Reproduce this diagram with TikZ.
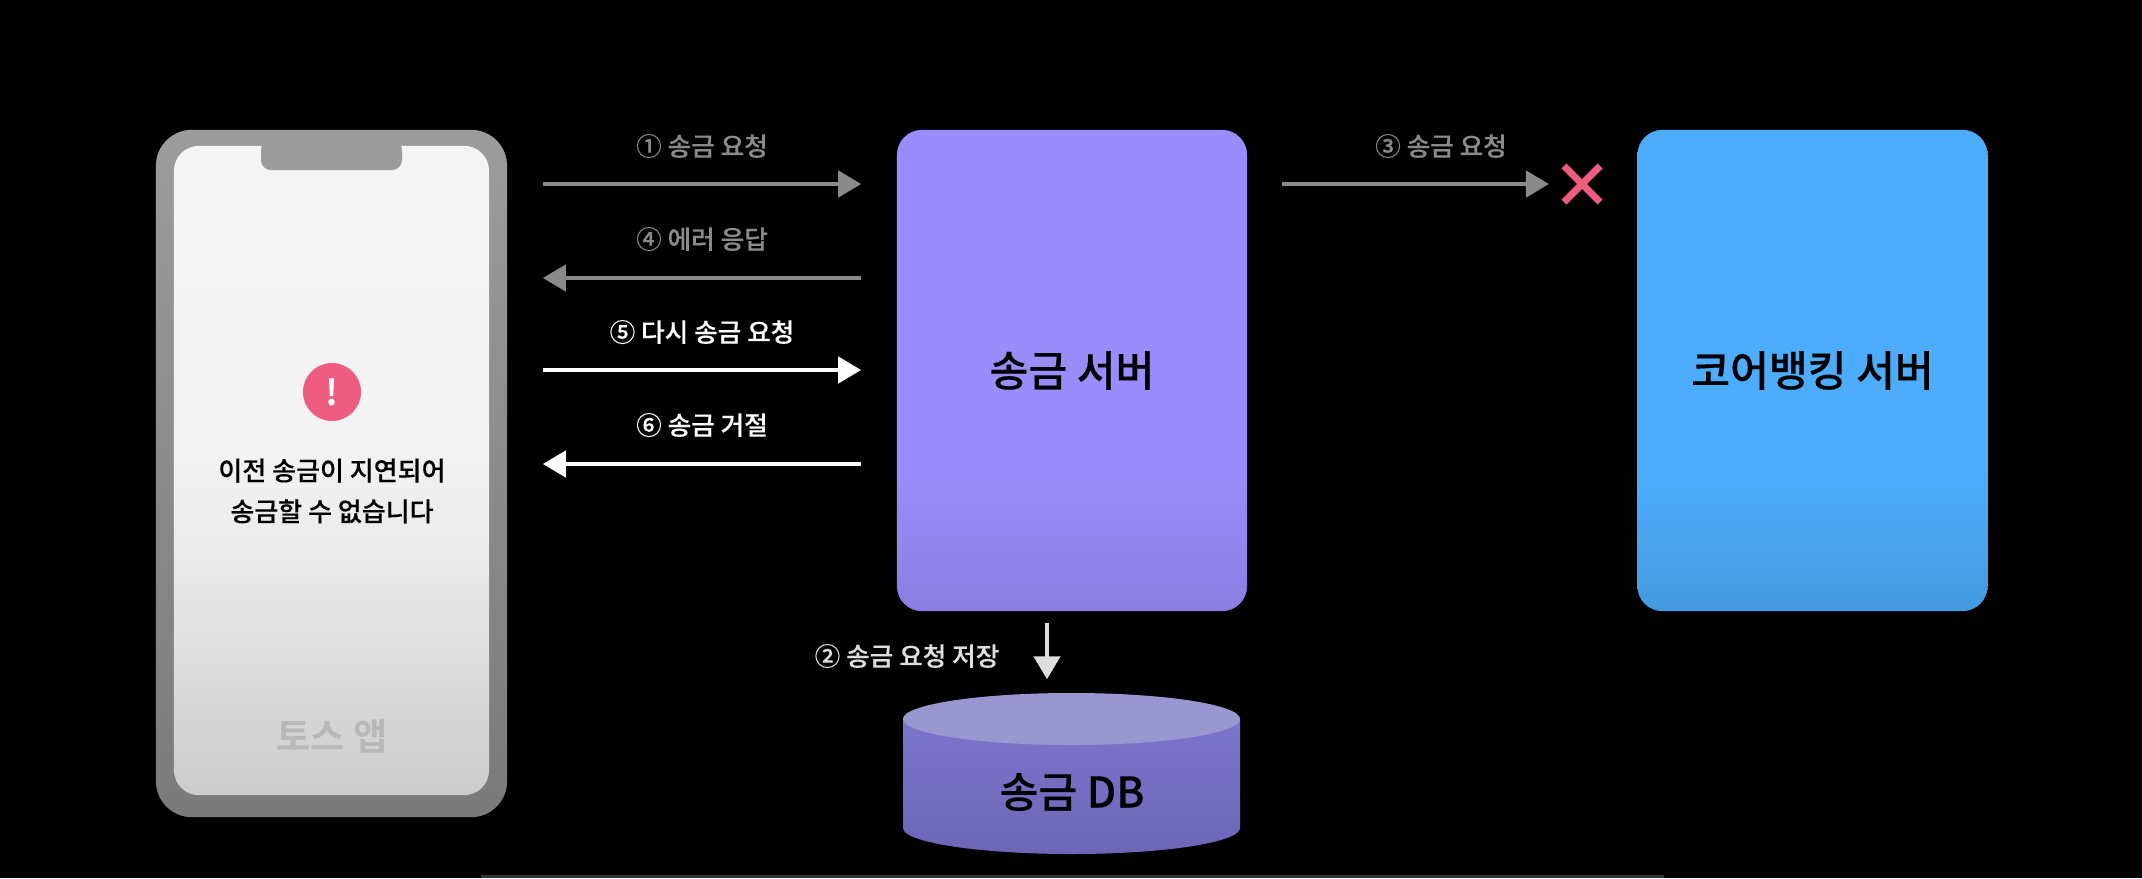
\documentclass[tikz,border=0pt]{standalone}
\usepackage{fontspec}
\setmainfont{Noto Sans CJK KR}[BoldFont={Noto Sans CJK KR Medium},BoldFeatures={FakeBold=0.3}]
\newfontfamily\heavyfont{Noto Sans CJK KR Bold}
\usetikzlibrary{arrows.meta,shapes.geometric,shapes.misc}

\definecolor{alertpink}{HTML}{EE5D7F}
\definecolor{mutedgrey}{HTML}{8A8A8A}
\definecolor{dbcapblue}{HTML}{9A96CF}
\definecolor{linegrey}{HTML}{333333}
\definecolor{frametop}{HTML}{9C9C9C}
\definecolor{framelow}{HTML}{7A7A7A}
\definecolor{screentop}{HTML}{F5F5F5}
\definecolor{screenmid}{HTML}{F3F3F3}
\definecolor{screensoft}{HTML}{EBEBEB}
\definecolor{screenlow}{HTML}{CCCCCC}
\definecolor{servertop}{HTML}{9A8CFA}
\definecolor{serverlow}{HTML}{8A7EE2}
\definecolor{coretop}{HTML}{4DACFB}
\definecolor{corelow}{HTML}{459ADF}
\definecolor{dbtop}{HTML}{7D74CC}
\definecolor{dblow}{HTML}{6D66B6}

\pgfdeclareverticalshading{phoneframe}{100bp}{color(0bp)=(framelow);color(25bp)=(framelow);color(75bp)=(frametop);color(100bp)=(frametop)}
\pgfdeclareverticalshading{phonescreen}{100bp}{color(0bp)=(screenlow);color(25bp)=(screenlow);color(44bp)=(screensoft);color(52bp)=(screenmid);color(100bp)=(screentop)}
\pgfdeclareverticalshading{serverface}{100bp}{color(0bp)=(serverlow);color(25bp)=(serverlow);color(39bp)=(servertop);color(100bp)=(servertop)}
\pgfdeclareverticalshading{coreface}{100bp}{color(0bp)=(corelow);color(25bp)=(corelow);color(39bp)=(coretop);color(100bp)=(coretop)}
\pgfdeclareverticalshading{dbbody}{100bp}{color(0bp)=(dblow);color(25bp)=(dblow);color(75bp)=(dbtop);color(100bp)=(dbtop)}

\tikzset{
  box/.style={inner sep=0pt, minimum width=3.5cm, minimum height=4.81cm,
    rounded corners=0.25cm, font=\bfseries\fontsize{12}{14}\selectfont},
  steplabel/.style={inner sep=0pt, font=\bfseries\fontsize{7.3}{9}\selectfont},
  greyflow/.style={draw=mutedgrey, line width=1.3pt, -{Triangle[length=0.23cm,width=0.26cm]}},
  whiteflow/.style={draw=white, line width=1.3pt, -{Triangle[length=0.23cm,width=0.26cm]}},
  gapped/.style={shorten >=0.35cm, shorten <=0.35cm}
}

\begin{document}
\begin{tikzpicture}[x=0.01cm, y=-0.01cm]

      \fill [black] (0,0) rectangle (2142,878);
      \fill [linegrey] (481,875) rectangle (1664,878);

      % The phone.
      \node (phone) [inner sep=0pt, minimum width=3.51cm, minimum height=6.87cm,
        rounded corners=0.36cm, shading=phoneframe] at (331.5,473.5) {};
      \node (screen) [inner sep=0pt, minimum width=3.15cm, minimum height=6.49cm,
        rounded corners=0.25cm, shading=phonescreen] at (331.5,470.5) {};
      \fill [frametop, rounded corners=0.1cm] (261,140) -- (261,170) -- (402,170) -- (402,140) -- cycle;
      \node (alert) [circle, fill=alertpink, minimum size=0.58cm, inner sep=0pt,
        text=white, font=\heavyfont\fontsize{10}{10}\selectfont] at (332,392) {!};
      \node (message) [align=center, inner sep=0pt, text=black,
        font=\bfseries\fontsize{7.4}{11.6}\selectfont] at (332,491) {이전 송금이 지연되어\\송금할 수 없습니다};
      \node (appname) [inner sep=0pt, text=black!28, font=\heavyfont\fontsize{10.6}{12}\selectfont] at (332,736) {토스 앱};

      % The two servers.
      \node (server) [box, shading=serverface] at (1072,370.5) {송금 서버};
      \node (core) [box, shading=coreface] at (1812.5,370.5) {코어뱅킹 서버};

      % The database.
      \shade [shading=dbbody] (903,719) -- (903,828) arc [start angle=180, end angle=0, x radius=168.5, y radius=26]
        -- (1240,719) -- cycle;
      \node (dbcap) [ellipse, fill=dbcapblue, inner sep=0pt, minimum width=3.37cm, minimum height=0.52cm] at (1071.5,719) {};
      \node (db) [inner sep=0pt, font=\bfseries\fontsize{12}{14}\selectfont] at (1072,792) {송금 DB};

      \node (stopmark) [cross out, draw=alertpink, line width=2pt, inner sep=0pt,
        minimum size=0.29cm] at (1582,184) {};

      % The rows of the arrows.
      \coordinate (rowa) at (0,184);
      \coordinate (rowb) at (0,278);
      \coordinate (rowc) at (0,370);
      \coordinate (rowd) at (0,464);
      \coordinate (columnb) at (1047,0);

      \draw [greyflow, gapped] (phone.east |- rowa) -- (server.west |- rowa);
      \draw [greyflow, gapped] (server.west |- rowb) -- (phone.east |- rowb);
      \draw [whiteflow, gapped] (phone.east |- rowc) -- (server.west |- rowc);
      \draw [whiteflow, gapped] (server.west |- rowd) -- (phone.east |- rowd);
      \draw [greyflow, shorten >=0.15cm, shorten <=0.34cm] (server.east |- rowa) -- (stopmark.west |- rowa);
      \draw [whiteflow, draw=black!13, shorten >=0.13cm, shorten <=0.11cm] (server.south -| columnb) -- (dbcap.north -| columnb);

      \node (labela) [steplabel, text=mutedgrey] at (702,146) {① 송금 요청};
      \node (labelb) [steplabel, text=mutedgrey] at (702,239) {④ 에러 응답};
      \node (labelc) [steplabel, text=white] at (702,332) {⑤ 다시 송금 요청};
      \node (labeld) [steplabel, text=white] at (702,425) {⑥ 송금 거절};
      \node (labele) [steplabel, text=mutedgrey] at (1441,146) {③ 송금 요청};
      \node (labelf) [steplabel, text=black!13] at (907,656) {② 송금 요청 저장};

    \end{tikzpicture}
\end{document}
